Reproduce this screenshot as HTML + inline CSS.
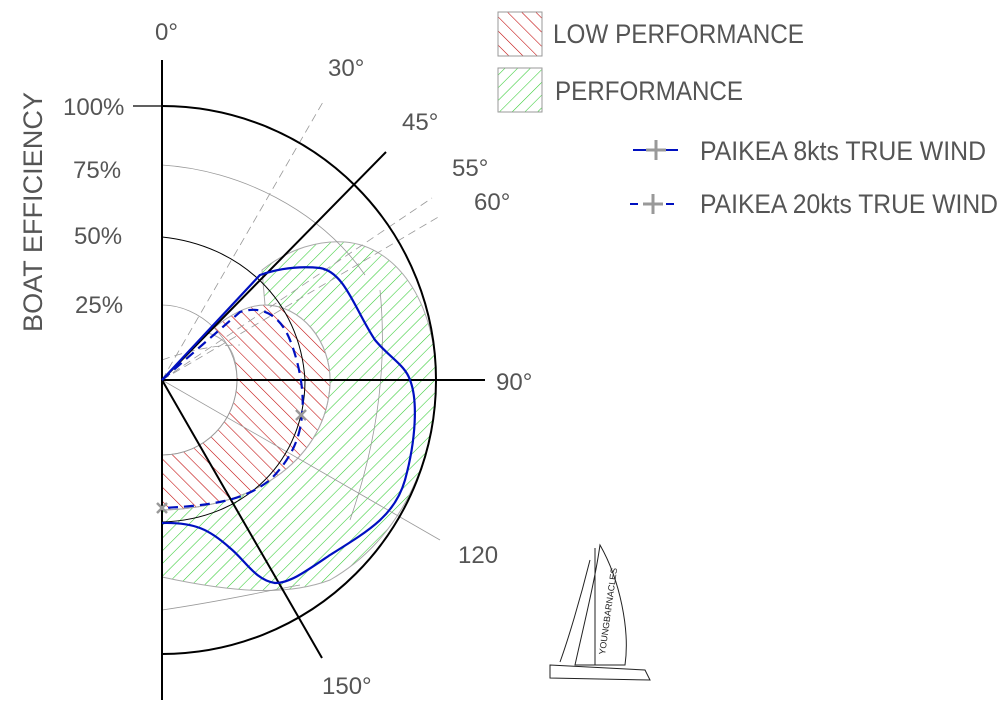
<!DOCTYPE html>
<html><head><meta charset="utf-8"><style>html,body{margin:0;padding:0;background:#fff}svg{display:block}</style></head>
<body>
<svg width="1006" height="713" viewBox="0 0 1006 713" xmlns="http://www.w3.org/2000/svg" font-family="Liberation Sans, Arial, sans-serif" fill="#555">
<defs>
<pattern id="red" width="10" height="10" patternUnits="userSpaceOnUse" patternTransform="rotate(-45)">
<line x1="0" y1="0" x2="0" y2="10" stroke="#c00000" stroke-width="1.1"/></pattern>
<pattern id="grn" width="9" height="9" patternUnits="userSpaceOnUse" patternTransform="rotate(45)">
<line x1="0" y1="0" x2="0" y2="9" stroke="#3c3" stroke-width="1.1"/></pattern>
</defs>
<path d="M262,270 C290,248 320,240 345,242 C395,246 436,300 436,380 C436,460 400,540 330,580 C290,595 240,594 162,577 L162,510 C260,508 326,455 330,385 C332,340 300,305 265,305 Z" fill="url(#grn)" stroke="#aaa" stroke-width="1"/>
<path d="M208,333 C225,318 245,305 265,305 C300,305 332,340 330,385 C326,455 260,508 162,510 L162,455 C205,455 237,420 237,380 C237,350 225,338 208,333 Z" fill="url(#red)" stroke="#aaa" stroke-width="1"/>
<g fill="none" stroke="#999" stroke-width="0.8">
<path d="M162,165 C240,170 320,210 365,275"/>
<path d="M162,305 C200,305 237,340 237,380 C237,420 205,455 162,455"/>
<path d="M162,610 C230,600 270,590 300,585"/>
<path d="M162,380 L440,540"/>
<path d="M380,290 C385,340 385,420 350,520"/>
</g>
<g fill="none" stroke="#999" stroke-width="0.8" stroke-dasharray="8,5">
<path d="M162,380 L323,102"/>
<path d="M162,380 L432,198"/>
<path d="M162,380 L440,216"/>
<path d="M162,360 C190,350 215,345 240,345"/>
</g>
<g fill="none" stroke="#000">
<line x1="162" y1="60" x2="162" y2="700" stroke-width="2"/>
<line x1="162" y1="380" x2="485" y2="380" stroke-width="2"/>
<line x1="133" y1="106" x2="162" y2="106" stroke-width="1.2"/>
<line x1="162" y1="380" x2="386" y2="152" stroke-width="2"/>
<line x1="162" y1="380" x2="322" y2="658" stroke-width="2"/>
<path d="M162,106 A274,274 0 0 1 162,654" stroke-width="2"/>
<path d="M162,237 C240,245 300,300 305,380 C305,460 245,520 162,522" stroke-width="1"/>
</g>
<path d="M162,380 L260,275 C280,268 300,266 320,268 C345,272 355,310 375,340 C390,358 405,365 410,380 C418,400 416,440 405,480 C395,515 370,530 330,555 C305,572 290,583 275,583 C255,580 245,560 230,548 C210,530 195,522 162,523" fill="none" stroke="#0010c0" stroke-width="2.2"/>
<path d="M162,380 L240,312 C262,305 280,315 290,340 C298,360 305,390 302,415 C300,440 290,460 270,480 C250,495 230,505 162,508" fill="none" stroke="#0010c0" stroke-width="2.2" stroke-dasharray="10,6"/>
<g stroke="#999" stroke-width="2.5"><path d="M296,410 l10,10 M306,410 l-10,10 M157,503 l10,10 M167,503 l-10,10"/></g>
<g font-size="24">
<text x="155" y="40">0°</text>
<text x="328" y="76">30°</text>
<text x="402" y="130">45°</text>
<text x="452" y="176">55°</text>
<text x="474" y="210">60°</text>
<text x="496" y="390">90°</text>
<text x="458" y="563">120</text>
<text x="322" y="694">150°</text>
<text x="63" y="115">100%</text>
<text x="73" y="178">75%</text>
<text x="74" y="244">50%</text>
<text x="75" y="313">25%</text>
<text transform="translate(42,332) rotate(-90)" font-size="27" textLength="240" lengthAdjust="spacingAndGlyphs">BOAT EFFICIENCY</text>
</g>
<rect x="498" y="12" width="44" height="44" fill="url(#red)" stroke="#999"/>
<rect x="498" y="68" width="44" height="44" fill="url(#grn)" stroke="#999"/>
<g font-size="27">
<text x="553" y="43" textLength="251" lengthAdjust="spacingAndGlyphs">LOW PERFORMANCE</text>
<text x="555" y="100" textLength="188" lengthAdjust="spacingAndGlyphs">PERFORMANCE</text>
<text x="700" y="160" textLength="286" lengthAdjust="spacingAndGlyphs">PAIKEA 8kts TRUE WIND</text>
<text x="700" y="213" textLength="298" lengthAdjust="spacingAndGlyphs">PAIKEA 20kts TRUE WIND</text>
</g>
<line x1="633" y1="150" x2="678" y2="150" stroke="#0010c0" stroke-width="2"/>
<line x1="630" y1="204" x2="678" y2="204" stroke="#0010c0" stroke-width="2" stroke-dasharray="8,10"/>
<g stroke="#999" stroke-width="3"><path d="M656,140 v20 M646,150 h20 M653,194 v20 M643,204 h20"/></g>
<g fill="none" stroke="#222" stroke-width="1">
<path d="M600,545 C620,580 630,630 625,665 L575,665 C585,620 595,580 600,545 Z"/>
<path d="M595,548 L595,665"/>
<path d="M590,560 C580,600 568,640 560,662"/>
<path d="M550,665 L645,670 L650,680 L550,678 Z"/>
<text x="0" y="0" font-size="9" fill="#222" stroke="none" transform="translate(605,655) rotate(-82)">YOUNGBARNACLES</text>
</g>
</svg>
</body></html>
